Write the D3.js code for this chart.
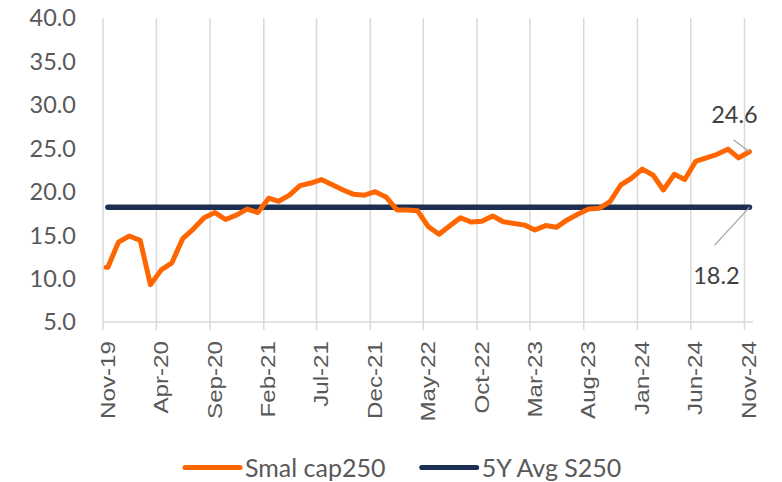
<!DOCTYPE html>
<html>
<head>
<meta charset="utf-8">
<script src="https://cdn.jsdelivr.net/npm/d3@7"></script>
<style>
  body { margin: 0; background: #fff; }
  text { font-family: Lato, "Open Sans", sans-serif; }
</style>
</head>
<body>
<svg id="chart" width="782" height="482"></svg>
<script>
// Tick labels on the x axis (every 5 months)
var tickLabels = ["Nov-19","Apr-20","Sep-20","Feb-21","Jul-21","Dec-21","May-22",
                  "Oct-22","Mar-23","Aug-23","Jan-24","Jun-24","Nov-24"];
// y axis ticks
var yTicks = [5,10,15,20,25,30,35,40];
// Monthly P/E of small cap 250, Nov-19 .. Nov-24
var smallCap = [11.3,14.2,14.9,14.4,9.3,11.0,11.8,14.6,15.7,17.0,
                17.6,16.8,17.3,18.0,17.6,19.25,18.9,19.6,20.7,21.0,
                21.4,20.8,20.2,19.7,19.6,20.0,19.4,17.9,17.9,17.8,
                16.0,15.1,16.05,17.0,16.5,16.6,17.2,16.55,16.35,16.15,
                15.6,16.1,15.9,16.75,17.4,18.0,18.1,18.85,20.8,21.55,
                22.6,21.9,20.2,22.0,21.4,23.5,23.9,24.3,24.9,23.9,24.6];
// 5 year average
var avg5y = 18.2;
var seriesNames = ["Smal cap250","5Y Avg S250"];
var colors = ["#ff6600","#1c2f52"];

var svg = d3.select('#chart');

var parseTick = d3.timeParse('%b-%y');
var tickDates = tickLabels.map(parseTick);
// points sit in the middle of each month
var monthDates = smallCap.map(function(d,i){ return d3.timeDay.offset(d3.timeMonth.offset(tickDates[0], i), 14); });
var series = smallCap.map(function(v,i){ return {date: monthDates[i], v: v}; });
// the series opens a few days earlier at the first value
series.unshift({date: d3.timeDay.offset(tickDates[0], 9), v: smallCap[0]});

var x = d3.scaleTime().domain([tickDates[0], tickDates[tickDates.length-1]]).range([103, 744.5]);
var y = d3.scaleLinear().domain([5,40]).range([322,18]);

//Vertical gridlines, running a little below the axis like tick marks
svg.selectAll('.grid').data(tickDates).enter().append('line')
  .attr('class','grid')
  .attr('x1',function(d){return x(d);}).attr('x2',function(d){return x(d);})
  .attr('y1',y(40)).attr('y2',y(5)+8)
  .attr('stroke','#d9d9d9').attr('stroke-width',1.5);

//Horizontal axis line
svg.append('line')
  .attr('x1',x(tickDates[0])).attr('x2',753)
  .attr('y1',y(5)).attr('y2',y(5))
  .attr('stroke','#d9d9d9').attr('stroke-width',1.5);

//Y labels
svg.selectAll('.ylab').data(yTicks).enter().append('text')
  .attr('class','ylab')
  .attr('x',76).attr('y',function(d){return y(d);}).attr('dy','0.36em')
  .attr('text-anchor','end').attr('font-size','23.5px').attr('fill','#595959')
  .text(function(d){return d3.format('.1f')(d);});

//X labels, rotated (they are stretched along their length in the picture)
svg.selectAll('.xlab').data(tickDates).enter().append('text')
  .attr('class','xlab')
  .attr('transform',function(d){return 'translate('+(x(d)+5)+','+341+') rotate(-90) scale(1.24,1)';})
  .attr('text-anchor','end').attr('dominant-baseline','central')
  .style('font-family','"Liberation Sans", Arial, sans-serif')
  .attr('font-size','19.5px').attr('fill','#595959')
  .text(function(d){return d3.timeFormat('%b-%y')(d);});

//Average line
var first = monthDates[0], last = monthDates[monthDates.length-1];
svg.append('line')
  .attr('x1',x(first)).attr('x2',x(last))
  .attr('y1',y(avg5y)).attr('y2',y(avg5y))
  .attr('stroke',colors[1]).attr('stroke-width',5.5).attr('stroke-linecap','round');

//Small cap line
var line = d3.line().x(function(d){return x(d.date);}).y(function(d){return y(d.v);});
svg.append('path').datum(series)
  .attr('d',line).attr('fill','none')
  .attr('stroke',colors[0]).attr('stroke-width',5)
  .attr('stroke-linejoin','round').attr('stroke-linecap','round');

//End labels with leader lines
var lastPt = series[series.length-1];
var ends = [
  {px:x(lastPt.date), py:y(lastPt.v), lx:-16, ly:-12, tx:-15, ty:-29, label:d3.format('.1f')(lastPt.v)},
  {px:x(last), py:y(avg5y), lx:-35, ly:38, tx:-33, ty:77, label:d3.format('.1f')(avg5y)}
];
svg.selectAll('.leader').data(ends).enter().append('line')
  .attr('class','leader')
  .attr('x1',function(d){return d.px;}).attr('y1',function(d){return d.py;})
  .attr('x2',function(d){return d.px+d.lx;}).attr('y2',function(d){return d.py+d.ly;})
  .attr('stroke','#a6a6a6').attr('stroke-width',1.3);
svg.selectAll('.endlab').data(ends).enter().append('text')
  .attr('class','endlab')
  .attr('x',function(d){return d.px+d.tx;}).attr('y',function(d){return d.py+d.ty;})
  .attr('text-anchor','middle').attr('font-size','23.5px').attr('fill','#404040')
  .text(function(d){return d.label;});

//Legend
var legend = svg.selectAll('.legend').data(seriesNames).enter().append('g')
  .attr('class','legend')
  .attr('transform',function(d,i){return 'translate('+(185+i*236.7)+',467.5)';});
legend.append('line').attr('x1',0).attr('x2',55).attr('y1',0).attr('y2',0)
  .attr('stroke',function(d,i){return colors[i];}).attr('stroke-width',5).attr('stroke-linecap','round');
legend.append('text').attr('x',60).attr('y',0).attr('dy','0.36em')
  .attr('font-size','25px').attr('fill','#595959')
  .text(function(d){return d;});
</script>
</body>
</html>
